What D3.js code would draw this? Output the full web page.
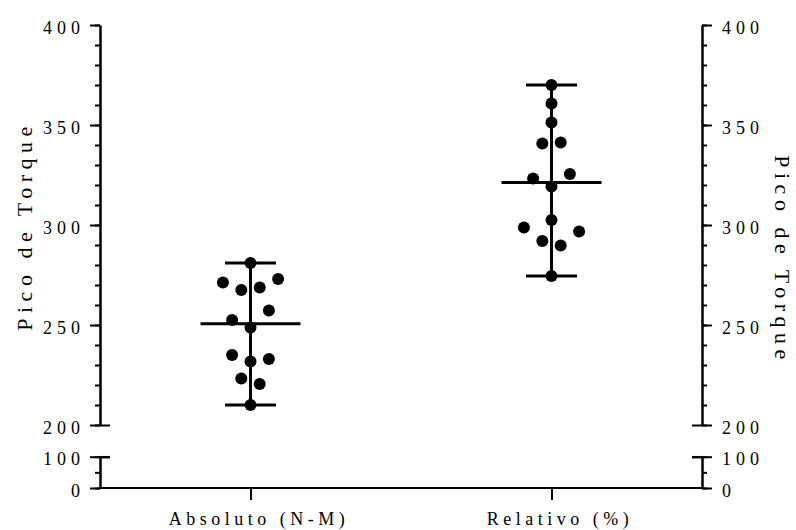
<!DOCTYPE html>
<html><head><meta charset="utf-8">
<script src="https://cdn.jsdelivr.net/npm/d3@7"></script>
<style>
body{margin:0;background:#fff;}
text{font-family:"Liberation Serif","Times New Roman",serif;fill:#000;}
</style></head>
<body><svg id="c" width="796" height="530"></svg>
<script>
const categories = ["Absoluto (N-M)", "Relativo (%)"];
const absolutoValues = [281, 271.3, 267.5, 268.7, 273, 257.2, 252.5, 248.8, 235, 231.7, 233, 223.3, 220.5, 210];
const absolutoSlots  = [0, -3, -1, 1, 3, 2, -2, 0, -2, 0, 2, -1, 1, 0];
const relativoValues = [370, 360.8, 351.2, 340.8, 341.2, 323.3, 325.5, 319.2, 302.5, 298.7, 296.7, 292, 289.7, 274.5];
const relativoSlots  = [0, 0, 0, -1, 1, -2, 2, 0, 0, -3, 3, -1, 1, 0];
const upperTicks = [200, 250, 300, 350, 400];
const lowerTicks = [0, 100];
const yTitle = "Pico de Torque";

const series = [
  {cat: categories[0], values: absolutoValues, slots: absolutoSlots},
  {cat: categories[1], values: relativoValues, slots: relativoSlots}
];

const svg = d3.select("#c");
const L = 100, R = 702;
const x = d3.scalePoint().domain(categories).range([L, R]).padding(0.5);
const yU = d3.scaleLinear().domain([200, 400]).range([425, 25]);
const yL = d3.scaleLinear().domain([0, 100]).range([488, 456.7]);
const slotW = 9.2;
const FS = "18px", LS = "5px";

function styleAxis(g, lw){
  g.attr("font-family", null);
  g.selectAll("path.domain").attr("stroke","#000").attr("stroke-width",lw);
  g.selectAll(".tick line").attr("stroke","#000").attr("stroke-width",2);
  g.selectAll(".tick text").style("font-size",FS).style("letter-spacing",LS).attr("dy","0.45em");
}
const minorU = d3.range(200, 401, 10);
const minorL = [0, 50, 100];

[[yU, upperTicks, minorU], [yL, lowerTicks, minorL]].forEach(([sc, maj, mn]) => {
  const gm = svg.append("g").attr("transform",`translate(${L},0)`)
    .call(d3.axisLeft(sc).tickValues(mn).tickSize(5).tickSizeOuter(0).tickFormat(""));
  styleAxis(gm, 2);
  const g = svg.append("g").attr("transform",`translate(${L},0)`)
    .call(d3.axisLeft(sc).tickValues(maj).tickSize(10).tickSizeOuter(0).tickPadding(10));
  styleAxis(g, 2);
  g.selectAll(".tick text").attr("dx","5px");
  const gr = svg.append("g").attr("transform",`translate(${R},0)`)
    .call(d3.axisRight(sc).tickValues(mn).tickSize(5).tickSizeOuter(0).tickFormat(""));
  styleAxis(gr, 2);
  const g2 = svg.append("g").attr("transform",`translate(${R},0)`)
    .call(d3.axisRight(sc).tickValues(maj).tickSize(10).tickSizeOuter(0).tickPadding(10));
  styleAxis(g2, 2);
});
// break ticks extending inward
function inward(axisFn, sc, v, pos, w){
  svg.append("g").attr("transform",`translate(${pos},0)`)
    .call(axisFn(sc).tickValues([v]).tickSize(-10).tickSizeOuter(0).tickFormat(""))
    .call(g => {g.select(".domain").remove(); g.selectAll("line").attr("stroke","#000").attr("stroke-width",w);});
}
inward(d3.axisLeft, yU, 200, L, 2);
inward(d3.axisLeft, yL, 100, L, 2.5);
inward(d3.axisRight, yU, 200, R, 2);
inward(d3.axisRight, yL, 100, R, 2.5);

// X axis
const gx = svg.append("g").attr("transform",`translate(0,${yL(0)})`)
  .call(d3.axisBottom(x).tickSize(12).tickSizeOuter(0).tickPadding(12));
gx.attr("font-family", null);
gx.select(".domain").attr("stroke","#000").attr("stroke-width",2).attr("d",`M${L},0H${R}`);
gx.selectAll(".tick line").attr("stroke","#000").attr("stroke-width",2);
gx.selectAll(".tick text").style("font-size",FS).style("letter-spacing","4.5px").attr("dx","8px");

// Titles
svg.append("text").attr("transform","translate(32,229) rotate(-90)").attr("dx","3px")
  .attr("text-anchor","middle").style("font-size","22px").style("letter-spacing","5.5px").text(yTitle);
svg.append("text").attr("transform","translate(775,257) rotate(90)").attr("dx","3px")
  .attr("text-anchor","middle").style("font-size","22px").style("letter-spacing","5.5px").text(yTitle);

// Data
series.forEach(s => {
  const cx = x(s.cat);
  const med = d3.median(s.values), mn = d3.min(s.values), mx = d3.max(s.values);
  const g = svg.append("g");
  g.append("line").attr("x1",cx).attr("x2",cx).attr("y1",yU(mn)).attr("y2",yU(mx))
    .attr("stroke","#000").attr("stroke-width",3);
  [mn, mx].forEach(v => g.append("line").attr("x1",cx-25.5).attr("x2",cx+25.5)
    .attr("y1",yU(v)).attr("y2",yU(v)).attr("stroke","#000").attr("stroke-width",3));
  g.append("line").attr("x1",cx-50).attr("x2",cx+50).attr("y1",yU(med)).attr("y2",yU(med))
    .attr("stroke","#000").attr("stroke-width",3);
  g.selectAll("circle").data(s.values.map((v,i)=>({v, s:s.slots[i]}))).join("circle")
    .attr("cx", d => cx + d.s*slotW).attr("cy", d => yU(d.v)).attr("r", 6).attr("fill","#000");
});
</script></body></html>
